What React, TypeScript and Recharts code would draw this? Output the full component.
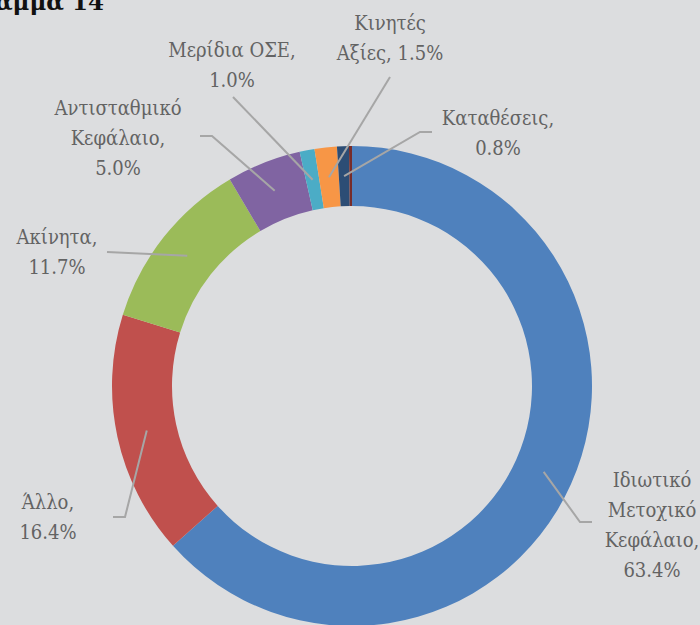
import React from "react";
import { PieChart, Pie, Cell } from "recharts";

// Portfolio allocation donut (values in %)
const CATEGORIES = [
  "Ιδιωτικό\nΜετοχικό\nΚεφάλαιο",
  "Άλλο",
  "Ακίνητα",
  "Αντισταθμικό\nΚεφάλαιο",
  "Μερίδια ΟΣΕ",
  "Κινητές\nΑξίες",
  "Καταθέσεις",
  "Λοιπά",
];
const SHARES = [63.4, 16.4, 11.7, 5.0, 1.0, 1.5, 0.8, 0.2];
const COLORS = [
  "#4f81bd",
  "#c0504d",
  "#9bbb59",
  "#8064a2",
  "#4bacc6",
  "#f79646",
  "#2c4d75",
  "#772c2a",
];

const TITLE = "Διάγραμμα 14";

// label placement relative to the pie centre (leader bends, text centre, first line)
const LABEL_LAYOUT: ({ leader: number[][]; tx: number; ty: number; pctInline?: boolean } | null)[] = [
  { leader: [[228, 136], [240, 136]], tx: 300, ty: 94 },
  { leader: [[-227, 131], [-239, 131]], tx: -304, ty: 116 },
  { leader: [[-245, -134]], tx: -295, ty: -149 },
  { leader: [[-140, -250], [-152, -250]], tx: -234, ty: -278 },
  { leader: [[-119, -289]], tx: -120, ty: -336 },
  { leader: [[38, -309]], tx: 38, ty: -363, pctInline: true },
  { leader: [[68, -254], [80, -254]], tx: 146, ty: -268 },
  null,
];

const data = CATEGORIES.map((name, i) => ({ name, value: SHARES[i] }));

const FONT = "'DejaVu Serif', serif";
const LINE_H = 30;

const renderLabel = (props: any) => {
  const { cx, cy, midAngle, innerRadius, outerRadius, index } = props;
  const lay = LABEL_LAYOUT[index];
  if (!lay) return null;
  const r = (innerRadius + outerRadius) / 2;
  const rad = (-midAngle * Math.PI) / 180;
  const sx = cx + r * Math.cos(rad);
  const sy = cy + r * Math.sin(rad);
  const pts = [[sx, sy], ...lay.leader.map(([dx, dy]) => [cx + dx, cy + dy])];
  const pct = `${SHARES[index].toFixed(1)}%`;
  const nameLines = CATEGORIES[index].split("\n");
  const lines = lay.pctInline
    ? [...nameLines.slice(0, -1), `${nameLines[nameLines.length - 1]}, ${pct}`]
    : [...nameLines.slice(0, -1), `${nameLines[nameLines.length - 1]},`, pct];
  return (
    <g key={`lbl-${index}`}>
      <polyline
        points={pts.map((p) => p.join(",")).join(" ")}
        fill="none"
        stroke="#a6a6a6"
        strokeWidth={2}
      />
      <text
        textAnchor="middle"
        dominantBaseline="central"
        fill="#636363"
        fontFamily={FONT}
        fontSize={20}
        style={{ fontStretch: "condensed" }}
      >
        {lines.map((l, i) => (
          <tspan key={i} x={cx + lay.tx} y={cy + lay.ty + i * LINE_H}>
            {l}
          </tspan>
        ))}
      </text>
    </g>
  );
};

export default function App() {
  return (
    <div
      style={{
        position: "fixed",
        left: 0,
        top: 0,
        width: 700,
        height: 625,
        background: "#dcdddf",
        overflow: "hidden",
      }}
    >
      <svg
        width={700}
        height={40}
        style={{ position: "absolute", left: 0, top: 0 }}
      >
        <text
          x={104}
          y={10}
          textAnchor="end"
          fontFamily={FONT}
          fontWeight="bold"
          fontSize={23}
          fill="#111"
        >
          {TITLE}
        </text>
      </svg>
      <PieChart
        width={700}
        height={625}
        margin={{ top: 0, right: 0, bottom: 0, left: 0 }}
      >
        <Pie
          data={data}
          dataKey="value"
          cx={352}
          cy={386}
          innerRadius={180}
          outerRadius={240}
          startAngle={90}
          endAngle={-270}
          stroke="none"
          label={renderLabel}
          labelLine={false}
          isAnimationActive={false}
        >
          {data.map((d, i) => (
            <Cell key={d.name} fill={COLORS[i]} />
          ))}
        </Pie>
      </PieChart>
    </div>
  );
}
